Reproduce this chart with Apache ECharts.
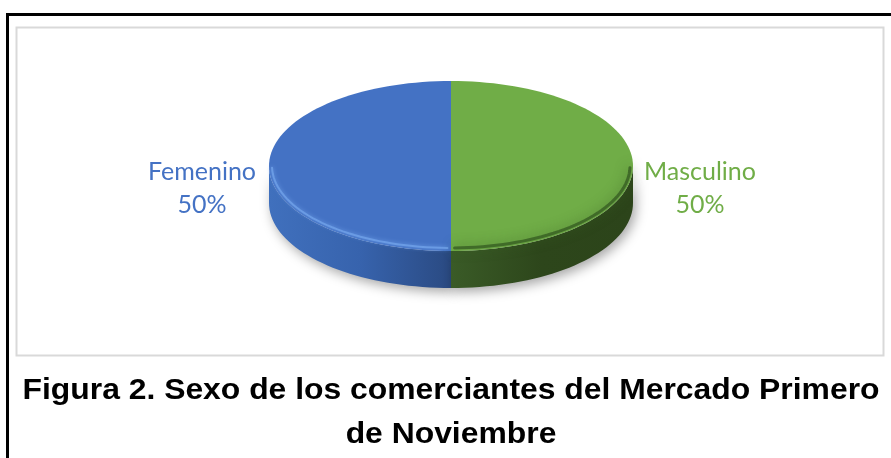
<!DOCTYPE html>
<html>
<head>
<meta charset="utf-8">
<script src="https://cdn.jsdelivr.net/npm/echarts@6/dist/echarts.min.js"></script>
<style>
  html, body { margin: 0; padding: 0; background: #fff; }
  #chart { width: 891px; height: 458px; }
</style>
</head>
<body>
<div id="chart"></div>
<script>
// datos del grafico
const categories = ['Femenino', 'Masculino']
const values = [50, 50]
const faceColors = ['#4472C4', '#70AD47']
const sideColors = [
  ['#4070bd', '#3763ad', '#2a4a82'],
  ['#3a5b27', '#2d461b', '#2c441a']
]
const rimColors = ['#6a9be4', 'rgba(58,98,36,0.85)']
const captionLines = [
  'Figura 2. Sexo de los comerciantes del Mercado Primero',
  'de Noviembre'
]

const total = values.reduce((a, b) => a + b, 0)

// geometria del pastel 3D
const cx = 451, cy = 166, rx = 182, ry = 85, depth = 37

function pt(a, k, dy) {
  return [cx + (rx - k) * Math.cos(a), cy - (ry - k) * Math.sin(a) + dy]
}
function arc(a0, a1, k, dy) {
  const n = Math.max(2, Math.ceil(Math.abs(a1 - a0) / Math.PI * 80))
  const pts = []
  for (let j = 0; j <= n; j++) {
    pts.push(pt(a0 + (a1 - a0) * j / n, k, dy))
  }
  return pts
}

function renderItem(params, api) {
  const i = params.dataIndex
  const before = values.slice(0, i).reduce((a, b) => a + b, 0)
  const start = Math.PI / 2 + 2 * Math.PI * before / total
  const end = start + 2 * Math.PI * api.value(0) / total
  const children = []

  // lado visible (mitad frontal)
  ;[[Math.PI, 2 * Math.PI], [3 * Math.PI, 4 * Math.PI]].forEach(([f0, f1]) => {
    const s0 = Math.max(start, f0), s1 = Math.min(end, f1)
    if (s1 <= s0) return
    const top = arc(s0, s1, 0, 0)
    const bottom = arc(s1, s0, 0, depth)
    const c = sideColors[i]
    children.push({
      type: 'polygon',
      z2: 1,
      shape: { points: top.concat(bottom) },
      style: {
        fill: new echarts.graphic.LinearGradient(0, 0, 1, 0, [
          { offset: 0, color: c[0] },
          { offset: 0.5, color: c[1] },
          { offset: 1, color: c[2] }
        ]),
        shadowColor: 'rgba(0,0,0,0.35)',
        shadowBlur: 12,
        shadowOffsetX: 3,
        shadowOffsetY: 4
      }
    })
    children.push({
      type: 'polyline',
      z2: 12,
      shape: { points: arc(s0 + 0.02, s1 - 0.02, 3, 0) },
      style: {
        stroke: rimColors[i],
        lineWidth: i === 0 ? 2 : 3,
        lineCap: 'round',
        fill: null,
        shadowColor: rimColors[i],
        shadowBlur: i === 0 ? 4 : 12
      }
    })
  })

  // cara superior
  children.push({
    type: 'polygon',
    z2: 10,
    shape: { points: [[cx, cy]].concat(arc(start, end, 0, 0)) },
    style: { fill: faceColors[i] }
  })

  // etiqueta
  const mid = (start + end) / 2
  const pct = Math.round(api.value(0) / total * 100) + '%'
  children.push({
    type: 'text',
    z2: 20,
    x: cx + (rx + 67) * Math.cos(mid),
    y: cy - (ry + 30) * Math.sin(mid) + 22,
    style: {
      text: categories[i] + '\n' + pct,
      fill: faceColors[i],
      fontFamily: 'Lato',
      fontSize: 25,
      lineHeight: 33,
      align: 'center',
      verticalAlign: 'middle'
    }
  })

  return { type: 'group', children: children }
}

const myChart = echarts.init(document.getElementById('chart'))
const option = {
  animation: false,
  backgroundColor: '#fff',
  graphic: [
    {
      type: 'rect',
      shape: { x: 7.5, y: 14.5, width: 900, height: 500 },
      style: { fill: null, stroke: '#000', lineWidth: 3 }
    },
    {
      type: 'rect',
      shape: { x: 16.5, y: 27.5, width: 867, height: 328 },
      style: { fill: null, stroke: '#d9d9d9', lineWidth: 2 }
    },
    {
      type: 'text',
      x: 451, y: 391, scaleX: 1.08,
      style: {
        text: captionLines[0], fill: '#000',
        fontFamily: '"Liberation Sans", Arial', fontWeight: 'bold', fontSize: 29.5,
        align: 'center', verticalAlign: 'middle'
      }
    },
    {
      type: 'text',
      x: 451, y: 435, scaleX: 1.08,
      style: {
        text: captionLines[1], fill: '#000',
        fontFamily: '"Liberation Sans", Arial', fontWeight: 'bold', fontSize: 29.5,
        align: 'center', verticalAlign: 'middle'
      }
    }
  ],
  series: [
    {
      type: 'custom',
      coordinateSystem: 'none',
      renderItem: renderItem,
      data: values
    }
  ]
}
myChart.setOption(option)
</script>
</body>
</html>
